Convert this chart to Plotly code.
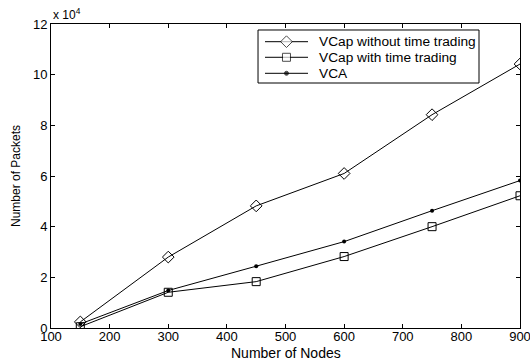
import plotly.graph_objects as go

# Number of nodes in the network
nodes = [150, 300, 450, 600, 750, 900]

# Packets sent per scheme
vcap_no_trading = [2400, 28000, 48200, 61000, 84200, 104200]
vcap_trading = [500, 14100, 18300, 28200, 40000, 52200]
vca = [1600, 14800, 24400, 34100, 46300, 58200]

series_names = ["VCap without time trading", "VCap with time trading", "VCA"]

x_ticks = [100, 200, 300, 400, 500, 600, 700, 800, 900]
y_ticks = [0, 20000, 40000, 60000, 80000, 100000, 120000]
y_tick_text = ["0", "2", "4", "6", "8", "10", "12"]

font = "Liberation Sans, Arial, sans-serif"
line = dict(color="black", width=1)
markers = [
    dict(symbol="diamond-open", size=9, color="black", line=dict(width=1)),
    dict(symbol="square-open", size=8, color="black", line=dict(width=1)),
    dict(symbol="circle", size=4, color="black"),
]

fig = go.Figure()
for name, values, mk in zip(series_names, [vcap_no_trading, vcap_trading, vca], markers):
    fig.add_trace(go.Scatter(
        x=nodes, y=values, mode="lines+markers", name=name,
        line=line, marker=mk, showlegend=False,
    ))

axis_common = dict(
    showgrid=False, zeroline=False, automargin=False,
    showline=True, linecolor="black", linewidth=1, mirror="ticks",
    ticks="inside", ticklen=4, tickcolor="black", ticklabeloverflow="allow",
    tickfont=dict(family=font, size=13, color="black"),
)

fig.update_xaxes(range=[100, 900], tickvals=x_ticks, ticklabelstandoff=-4, **axis_common)
fig.update_yaxes(range=[0, 120000], tickvals=y_ticks, ticktext=y_tick_text, **axis_common)

# Axis titles
fig.add_annotation(
    x=0.5, y=0, xref="paper", yref="paper", xanchor="center", yanchor="middle",
    yshift=-25, text="Number of Nodes", showarrow=False,
    font=dict(family=font, size=14, color="black"),
)
fig.add_annotation(
    x=0, y=0.5, xref="paper", yref="paper", xanchor="center", yanchor="middle",
    xshift=-35, textangle=-90, text="Number of Packets", showarrow=False,
    font=dict(family=font, size=12, color="black"),
)

fig.add_annotation(
    x=0, y=1, xref="paper", yref="paper", xanchor="left", yanchor="bottom",
    text="x 10<sup>4</sup>", showarrow=False, yshift=0,
    font=dict(family=font, size=12, color="black"),
)

# Legend box drawn in paper coordinates
leg_x0, leg_x1, leg_y0, leg_y1 = 0.4414, 0.9126, 0.8059, 0.9803
sample_x0, sample_x1, sample_xm, text_x = 0.4563, 0.5480, 0.5021, 0.5665
row_y = [0.9418, 0.8905, 0.8378]

fig.add_shape(type="rect", xref="paper", yref="paper",
              x0=leg_x0, x1=leg_x1, y0=leg_y0, y1=leg_y1,
              line=dict(color="black", width=1), fillcolor="white", layer="below")
for name, ry in zip(series_names, row_y):
    fig.add_shape(type="line", xref="paper", yref="paper",
                  x0=sample_x0, x1=sample_x1, y0=ry, y1=ry,
                  line=dict(color="black", width=1), layer="below")
    fig.add_annotation(x=text_x, y=ry, xref="paper", yref="paper",
                       xanchor="left", yanchor="middle", text=name, showarrow=False,
                       font=dict(family=font, size=13.7, color="black"))

# Legend marker samples on an overlay axis spanning the plot area
fig.add_trace(go.Scatter(
    x=[sample_xm] * 3, y=row_y, mode="markers",
    marker=dict(
        symbol=["diamond", "square", "circle"],
        size=[m["size"] for m in markers],
        color=["white", "white", "black"],
        line=dict(color="black", width=1),
    ),
    xaxis="x2", yaxis="y2", showlegend=False, hoverinfo="skip",
))

fig.update_layout(
    width=530, height=360,
    margin=dict(l=51, r=10, t=24, b=32),
    paper_bgcolor="white", plot_bgcolor="white",
    font=dict(family=font, color="black"),
    showlegend=False,
    xaxis2=dict(overlaying="x", range=[0, 1], visible=False),
    yaxis2=dict(overlaying="y", range=[0, 1], visible=False),
)

fig.write_html("out.html")
